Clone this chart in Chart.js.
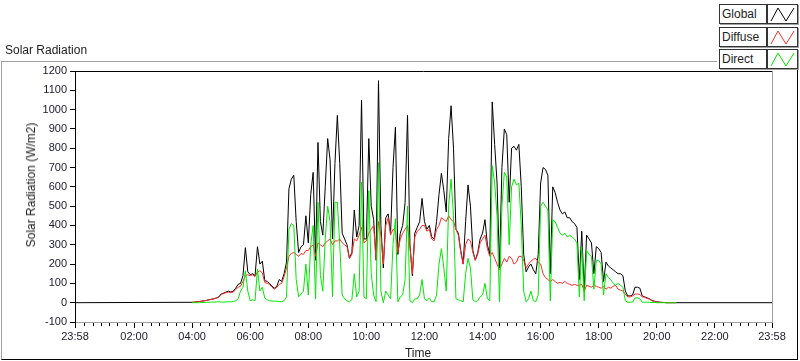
<!DOCTYPE html>
<html>
<head>
<meta charset="utf-8">
<script src="https://cdn.jsdelivr.net/npm/chart.js@4.4.1/dist/chart.umd.min.js"></script>
<style>
  body { margin: 0; background: #fff; font-family: "Liberation Sans", Arial, sans-serif; color: #222; }
  #wrap { position: relative; width: 800px; height: 361px; overflow: hidden; }
  #frame { position: absolute; left: 1px; top: 61px; width: 795px; height: 297px;
           border-top: 1px solid #a0a0a0; border-left: 1px solid #a0a0a0;
           border-right: 1px solid #000; border-bottom: 1px solid #000; }
  canvas { position: absolute; left: 0; top: 0; }
  #title { position: absolute; left: 5px; top: 43px; font-size: 12px; }
  #ytitle { position: absolute; left: 31px; top: 185px; font-size: 12px; white-space: nowrap;
            transform: translate(-50%, -50%) rotate(-90deg); }
  #xtitle { position: absolute; left: 418px; top: 346px; font-size: 12px; transform: translateX(-50%); }
  #legend { position: absolute; left: 717px; top: 2px; width: 83px; height: 68px; background: #fff; }
  .lab { position: absolute; left: 2px; width: 44px; height: 18px; border: 1px solid #333;
         box-shadow: 1px 1px 0 #a0a0a0; font-size: 12px; line-height: 18px; padding-left: 2px; box-sizing: content-box; }
  .sw { position: absolute; left: 50px; width: 29px; height: 18px; border: 1px solid #333; box-shadow: 1px 1px 0 #a0a0a0; }
</style>
</head>
<body>
<div id="wrap">
  <div id="frame"></div>
  <canvas id="chart" width="800" height="361"></canvas>
  <div id="title">Solar Radiation</div>
  <div id="ytitle">Solar Radiation (W/m2)</div>
  <div id="xtitle">Time</div>
  <div id="legend"></div>
</div>
<script>
// samples every 5 minutes from 04:00 (minutes after midnight), one row per hour
const startMin = 240;
const stepMin = 5;
// logger day runs 23:58 -> 23:58, Global reads 0 through the night
const dayEdges = [-2, 1438];

const globalVals = [
  2, 3, 5, 6, 8, 10, 12, 15, 18, 20, 25, 30,
  45, 50, 55, 60, 55, 60, 75, 95, 100, 140, 285, 160,
  145, 150, 140, 290, 200, 215, 115, 110, 100, 85, 75, 85,
  120, 110, 150, 210, 590, 640, 660, 420, 260, 290, 300, 450,
  310, 560, 675, 220, 830, 420, 350, 600, 850, 740, 330, 720,
  970, 720, 360, 330, 300, 230, 260, 480, 340, 400, 1050, 330,
  330, 850, 500, 430, 220, 1150, 400, 180, 440, 460, 360, 700,
  910, 250, 360, 400, 520, 970, 300, 140, 360, 390, 420, 540,
  420, 380, 400, 340, 330, 420, 560, 670, 580, 470, 850, 1020,
  800, 380, 360, 270, 200, 420, 610, 500, 270, 220, 260, 330,
  360, 430, 300, 250, 1040, 820, 620, 180, 700, 900, 870, 520,
  800, 810, 790, 820, 600, 250, 160, 185, 200, 170, 150, 250,
  620, 700, 690, 660, 150, 600, 570, 520, 480, 460, 470, 440,
  440, 420, 410, 390, 120, 370, 60, 350, 330, 310, 150, 290,
  280, 260, 110, 210, 190, 180, 170, 160, 150, 150, 140, 60,
  35, 35, 40, 80, 80, 75, 35, 30, 25, 20, 12, 8,
  5, 3, 2, 1, 0, 0, 0, 0, 0
];

const diffuseVals = [
  2, 3, 5, 6, 8, 10, 12, 15, 17, 20, 23, 28,
  42, 48, 52, 55, 52, 55, 68, 80, 85, 110, 140, 145,
  140, 145, 135, 160, 165, 155, 105, 100, 95, 80, 70, 80,
  95, 100, 135, 180, 240, 255, 260, 250, 240, 255, 250, 270,
  270, 290, 300, 240, 310, 300, 290, 310, 320, 330, 300, 320,
  320, 330, 310, 300, 290, 230, 250, 330, 320, 350, 390, 310,
  320, 360, 380, 400, 220, 420, 350, 200, 400, 440, 350, 380,
  370, 260, 330, 360, 380, 400, 290, 150, 340, 370, 380, 400,
  400, 370, 380, 330, 320, 380, 400, 440, 430, 420, 450, 430,
  420, 380, 350, 260, 200, 300, 330, 320, 260, 220, 250, 310,
  330, 350, 280, 240, 260, 230, 200, 170, 200, 230, 210, 240,
  230, 200, 210, 240, 240, 220, 180, 200, 215, 225, 230, 210,
  200, 150, 130, 120, 110, 120, 110, 100, 105, 100, 110, 100,
  95, 90, 95, 90, 90, 95, 60, 90, 85, 80, 90, 85,
  80, 75, 85, 70, 80, 75, 85, 90, 70, 65, 60, 45,
  30, 30, 35, 45, 45, 42, 30, 28, 22, 18, 10, 6,
  4, 2, 1, 1, 0, 0, 0, 0, 0
];

const directVals = [
  0, 0, 0, 0, 1, 1, 2, 2, 3, 3, 4, 5,
  3, 3, 4, 5, 4, 6, 10, 20, 60, 80, 165, 60,
  10, 15, 10, 175, 60, 80, 25, 15, 10, 8, 8, 8,
  5, 5, 10, 30, 380, 410, 400, 120, 30, 45, 60, 200,
  40, 300, 400, 20, 520, 140, 60, 330, 500, 420, 30, 520,
  520, 300, 40, 20, 10, 5, 15, 150, 30, 60, 625, 30,
  20, 580, 150, 40, 5, 725, 60, 0, 60, 40, 20, 300,
  435, 5, 30, 40, 120, 500, 10, 0, 20, 20, 40, 120,
  20, 10, 25, 5, 5, 40, 200, 280, 180, 60, 500, 640,
  450, 20, 15, 10, 5, 150, 230, 180, 15, 5, 10, 30,
  40, 100, 20, 10, 710, 620, 450, 5, 500, 675, 650, 300,
  600, 640, 610, 620, 400, 60, 5, 20, 60, 10, 5, 40,
  500, 520, 500, 480, 10, 430, 420, 390, 360, 350, 360, 340,
  350, 340, 330, 310, 30, 290, 10, 270, 250, 240, 70, 220,
  220, 200, 40, 150, 130, 120, 100, 90, 100, 90, 80, 10,
  2, 3, 3, 25, 25, 20, 3, 2, 3, 2, 1, 1,
  0, 0, 0, 0, 0, 0, 0, 0, 0
];

const majorTicks = [-2, 120, 240, 360, 480, 600, 720, 840, 960, 1080, 1200, 1320, 1438];
const yTicks = { min: -100, max: 1200, step: 100 };

const series = [
  { label: 'Global', values: globalVals, color: '#000000' },
  { label: 'Diffuse', values: diffuseVals, color: '#ff2a2a' },
  { label: 'Direct', values: directVals, color: '#00e800' }
];

function toPoints(vals) {
  return vals.map((v, i) => ({ x: startMin + i * stepMin, y: v }));
}

function fmtTime(m) {
  m = ((m % 1440) + 1440) % 1440;
  const h = Math.floor(m / 60), mm = Math.round(m % 60);
  return String(h).padStart(2, '0') + ':' + String(mm).padStart(2, '0');
}

const globalPts = [{ x: dayEdges[0], y: 0 }].concat(toPoints(globalVals), [{ x: dayEdges[1], y: 0 }]);

// legend boxes like the LabVIEW plot legend
const legend = document.getElementById('legend');
series.forEach((s, i) => {
  const top = 2 + i * 22.5;
  legend.insertAdjacentHTML('beforeend',
    '<div class="lab" style="top:' + top + 'px">' + s.label + '</div>' +
    '<div class="sw" style="top:' + top + 'px"><svg width="29" height="18">' +
    '<polyline points="3,16 10,3 18,16 26,3" fill="none" stroke="' + s.color + '" stroke-width="1"/></svg></div>');
});

const framePlugin = {
  id: 'frame',
  afterDraw(chart) {
    const { ctx, chartArea: a } = chart;
    const x = chart.scales.x;
    ctx.save();
    ctx.lineWidth = 1;
    ctx.strokeStyle = '#000';
    ctx.beginPath();
    ctx.moveTo(a.left, a.top + 0.5);
    ctx.lineTo(a.right, a.top + 0.5);
    ctx.stroke();
    ctx.strokeStyle = '#a0a0a0';
    ctx.beginPath();
    ctx.moveTo(a.right + 0.5, a.top);
    ctx.lineTo(a.right + 0.5, a.bottom);
    ctx.stroke();
    // minor time ticks, 7 per two hours
    ctx.strokeStyle = '#000';
    ctx.beginPath();
    for (let k = 1; k * 120 / 7 < 1438; k++) {
      if (k % 7 === 0) continue;
      const px = Math.round(x.getPixelForValue(k * 120 / 7)) + 0.5;
      ctx.moveTo(px, a.bottom + 1);
      ctx.lineTo(px, a.bottom + 4);
    }
    ctx.stroke();
    ctx.restore();
  }
};

const tickFont = { family: '"Liberation Sans", Arial, sans-serif', size: 11 };

new Chart(document.getElementById('chart'), {
  type: 'line',
  data: {
    datasets: [
      { label: 'Global', data: globalPts, borderColor: series[0].color, order: 3 },
      { label: 'Diffuse', data: toPoints(diffuseVals), borderColor: series[1].color, order: 2 },
      { label: 'Direct', data: toPoints(directVals), borderColor: series[2].color, order: 1 }
    ]
  },
  options: {
    responsive: false,
    animation: false,
    parsing: false,
    elements: { line: { borderWidth: 1, tension: 0 }, point: { radius: 0 } },
    layout: { padding: { top: 71, right: 28, bottom: 0, left: 0 } },
    plugins: { legend: { display: false }, tooltip: { enabled: false } },
    scales: {
      x: {
        type: 'linear',
        min: dayEdges[0],
        max: dayEdges[1],
        afterBuildTicks: s => { s.ticks = majorTicks.map(v => ({ value: v })); },
        afterFit: s => { s.height = 39; },
        ticks: { autoSkip: false, maxRotation: 0, padding: 2, color: '#1a1a2a', font: tickFont,
                 callback: v => fmtTime(v) },
        grid: { drawOnChartArea: false, tickLength: 6, tickColor: '#000' },
        border: { color: '#a0a0a0' }
      },
      y: {
        min: yTicks.min,
        max: yTicks.max,
        afterFit: s => { s.width = 75; },
        ticks: { stepSize: yTicks.step, padding: 3, color: '#1a1a2a', font: tickFont,
                 callback: v => String(v) },
        grid: { drawOnChartArea: false, tickLength: 5, tickColor: '#000' },
        border: { color: '#000' }
      }
    }
  },
  plugins: [framePlugin]
});
</script>
</body>
</html>
